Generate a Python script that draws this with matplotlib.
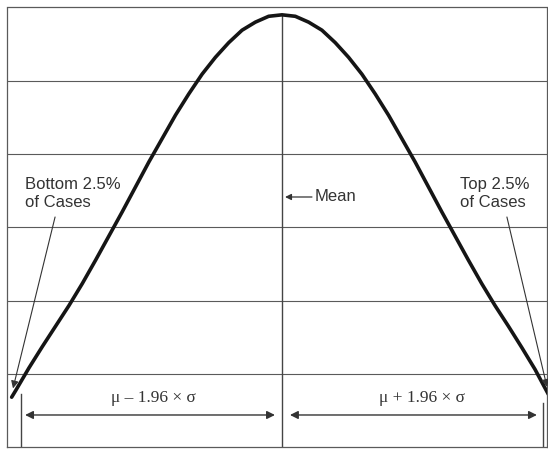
import matplotlib.pyplot as plt

# normal curve traced in sigma units (x) against grid rows (y)
curve_z = [-2.03, -2.0, -1.9, -1.8, -1.7, -1.6, -1.5, -1.4, -1.3, -1.2, -1.1,
           -1.0, -0.9, -0.8, -0.7, -0.6, -0.5, -0.4, -0.3, -0.2, -0.1, 0.0,
           0.1, 0.2, 0.3, 0.4, 0.5, 0.6, 0.7, 0.8, 0.9, 1.0,
           1.1, 1.2, 1.3, 1.4, 1.5, 1.6, 1.7, 1.8, 1.9, 2.0]
curve_y = [0.68, 0.77, 1.08, 1.37, 1.65, 1.93, 2.23, 2.55, 2.88, 3.21, 3.55,
           3.89, 4.21, 4.53, 4.82, 5.09, 5.32, 5.52, 5.69, 5.80, 5.88, 5.90,
           5.88, 5.80, 5.69, 5.52, 5.32, 5.09, 4.82, 4.53, 4.21, 3.89,
           3.55, 3.21, 2.88, 2.55, 2.23, 1.93, 1.65, 1.36, 1.06, 0.72]

cutoff = 1.96
peak = 5.90
tail_labels = ['Bottom 2.5%\nof Cases', 'Top 2.5%\nof Cases']
range_labels = ['\u03bc \u2013 1.96 \u00d7 \u03c3', '\u03bc + 1.96 \u00d7 \u03c3']

fig = plt.figure(figsize=(5.48, 4.49), dpi=100)
ax = fig.add_axes([7 / 548, 2 / 449, 540 / 548, 439.5 / 449])
ax.set_xlim(-2.065, 1.99)
ax.set_ylim(0, 6)

grid_col = '#5a5a5a'
for yy in range(1, 6):
    ax.axhline(yy, color=grid_col, lw=0.8, zorder=1)
for s in ax.spines.values():
    s.set_color(grid_col)
    s.set_linewidth(0.9)
ax.set_xticks([])
ax.set_yticks([])

# mean line and the two cutoff lines
ax.plot([0, 0], [0, peak], color='#444444', lw=1.0, zorder=2)
ax.plot([-cutoff, -cutoff], [0, 0.72], color='#444444', lw=1.0, zorder=2)
ax.plot([cutoff, cutoff], [0, 0.6], color='#444444', lw=1.0, zorder=2)

ax.plot(curve_z, curve_y, color='#151515', lw=2.6, solid_joinstyle='round',
        solid_capstyle='round', zorder=3)

txt_col = '#333333'
sans = ['Liberation Sans', 'DejaVu Sans']
serif = ['Liberation Serif', 'DejaVu Serif']

# tail annotations
ax.text(-1.929, 3.46, tail_labels[0], fontsize=12, family=sans, color=txt_col,
        ha='left', va='center', linespacing=1.25)
ax.text(1.336, 3.46, tail_labels[1], fontsize=12, family=sans, color=txt_col,
        ha='left', va='center', linespacing=1.25)
ax.annotate('', xy=(-2.02, 0.8), xytext=(-1.704, 3.14),
            arrowprops=dict(arrowstyle='-|>', color='#333333', lw=0.8,
                            mutation_scale=11, shrinkA=0, shrinkB=0))
ax.annotate('', xy=(1.99, 0.82), xytext=(1.689, 3.14),
            arrowprops=dict(arrowstyle='-|>', color='#333333', lw=0.8,
                            mutation_scale=11, shrinkA=0, shrinkB=0))

# mean pointer
ax.annotate('', xy=(0.023, 3.413), xytext=(0.225, 3.413),
            arrowprops=dict(arrowstyle='-|>', color='#333333', lw=0.9,
                            mutation_scale=9, shrinkA=0, shrinkB=0))
ax.text(0.248, 3.413, 'Mean', fontsize=12, family=sans, color=txt_col,
        ha='left', va='center')

# interval arrows
arrow_y = 0.437
for x0, x1 in [(-1.929, -0.053), (0.06, 1.914)]:
    ax.annotate('', xy=(x1, arrow_y), xytext=(x0, arrow_y),
                arrowprops=dict(arrowstyle='<|-|>', color='#333333', lw=1.0,
                                mutation_scale=12, shrinkA=0, shrinkB=0))
ax.text(-0.968, 0.669, range_labels[0], fontsize=12.5, family=serif,
        color=txt_col, ha='center', va='center')
ax.text(1.051, 0.669, range_labels[1], fontsize=12.5, family=serif,
        color=txt_col, ha='center', va='center')

fig.savefig('out.png', dpi=100)
